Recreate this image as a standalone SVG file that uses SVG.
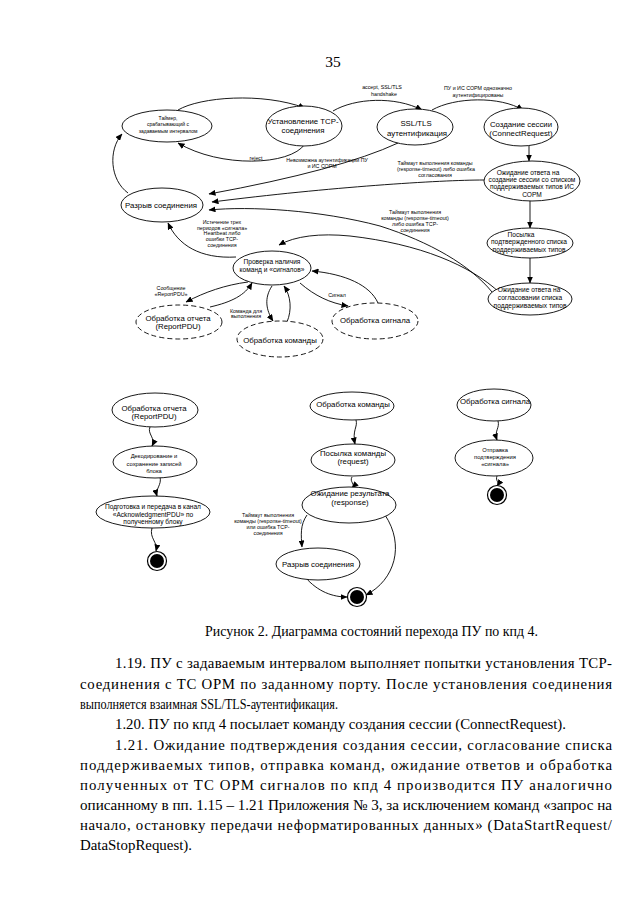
<svg xmlns="http://www.w3.org/2000/svg" width="640" height="905" viewBox="0 0 640 905">
<style>
.bg{fill:#fff}
.n{fill:#fff;stroke:#000;stroke-width:0.9}
.d{fill:#fff;stroke:#000;stroke-width:0.9;stroke-dasharray:5 3}
.t{font-family:"Liberation Sans",Arial,sans-serif;fill:#000;text-anchor:middle}
.t8{font-size:7.8px}
.t7{font-size:6.6px}
.t6{font-size:5.8px}
.l{font-family:"Liberation Sans",Arial,sans-serif;fill:#000;text-anchor:middle;font-size:5.3px}
.c path{fill:none;stroke:#000;stroke-width:0.9;marker-end:url(#ah)}
.body{font-family:"Liberation Serif","Times New Roman",serif;font-size:14.8px;fill:#000}
.end1{fill:#fff;stroke:#000;stroke-width:1.2}
.end2{fill:#000}
</style>
<defs>
<marker id="ah" markerUnits="userSpaceOnUse" markerWidth="7" markerHeight="6" refX="6.5" refY="3" orient="auto">
<path d="M0,0 L7,3 L0,6 z" fill="#000"/>
</marker>
</defs>
<rect class="bg" x="0" y="0" width="640" height="905"/>
<text class="body" x="333" y="67" text-anchor="middle" style="font-size:15.5px">35</text>

<g id="connectors" class="c">
<path d="M178,110 C200,97 262,92 305,108"/>
<path d="M305,144 C290,166 220,168 178,143"/>
<path d="M333,111 C355,98 395,96 422,110"/>
<path d="M432,110 C455,97 500,96 523,110"/>
<path d="M529,146 L529,161"/>
<path d="M530,200 L530,228"/>
<path d="M530,258 L530,283"/>
<path d="M398,143 Q340,170 209,194"/>
<path d="M484,180 C440,180 330,187 212,202"/>
<path d="M492,292 C470,265 430,242 380,226 C320,210 250,206 209,210"/>
<path d="M500,293 C470,265 420,244 350,236 C320,233 295,236 279,245"/>
<path d="M128,193 C110,180 108,150 122,134"/>
<path d="M236,257 C200,259 178,245 168,223"/>
<path d="M248,282 C225,285 205,292 186,302"/>
<path d="M210,307 C232,302 245,295 252,283"/>
<path d="M272,286 C264,298 266,310 273,321"/>
<path d="M287,322 C292,310 291,296 284,286"/>
<path d="M300,283 C315,296 330,303 348,306"/>
<path d="M378,303 C370,285 345,274 312,271"/>
<path d="M150,427 C147,434 156,438 152,446"/>
<path d="M160,477 C162,485 155,489 157,496"/>
<path d="M152,528 C149,538 158,542 156,551"/>
<path d="M356,420 C358,427 352,430 355,444"/>
<path d="M352,477 C349,482 356,484 352,488"/>
<path d="M307,515 C300,525 301,535 302,547"/>
<path d="M305,577 C318,592 333,597 347,597"/>
<path d="M385,515 C405,545 395,580 366,595"/>
<path d="M498,421 C500,428 494,431 497,440"/>
<path d="M497,476 C495,481 500,482 497,486"/>
</g>

<g id="labels">
<text class="l" x="382" y="89">accept, SSL/TLS</text>
<text class="l" x="384" y="96">handshake</text>
<text class="l" x="478" y="90">ПУ и ИС СОРМ однозначно</text>
<text class="l" x="478" y="97">аутентифицированы</text>
<text class="l" x="256" y="160">reject</text>
<text class="l" x="327" y="162">Невозможна аутентификации ПУ</text>
<text class="l" x="322" y="168">и ИС СОРМ</text>
<text class="l" x="435" y="165">Таймаут выполнения команды</text>
<text class="l" x="436" y="171">(response-timeout)  либо ошибка</text>
<text class="l" x="435" y="177">согласования</text>
<text class="l" x="415" y="213.5">Таймаут выполнения</text>
<text class="l" x="415" y="219.5">команды (response-timeout)</text>
<text class="l" x="415" y="225.5">либо ошибка TCP-</text>
<text class="l" x="415" y="231.5">соединения</text>
<text class="l" x="222" y="224">Истечение трех</text>
<text class="l" x="222" y="229.5">периодов «сигнала»</text>
<text class="l" x="222" y="235">Heartbeat либо</text>
<text class="l" x="222" y="241">ошибки TCP-</text>
<text class="l" x="222" y="246.5">соединения</text>
<text class="l" x="171" y="290">Сообщение</text>
<text class="l" x="171" y="295.5">«ReportPDU»</text>
<text class="l" x="246" y="313">Команда для</text>
<text class="l" x="246" y="318">выполнения</text>
<text class="l" x="337" y="297">Сигнал</text>
<text class="l" x="268" y="517">Таймаут выполнения</text>
<text class="l" x="268" y="523">команды (response-timeout)</text>
<text class="l" x="268" y="529">или ошибка TCP-</text>
<text class="l" x="268" y="535">соединения</text>
</g>

<g id="n-timer"><ellipse class="n" cx="167" cy="126" rx="45" ry="16"/>
<text class="t" style="font-size:5px" x="168" y="120">Таймер,</text>
<text class="t" style="font-size:5px" x="168" y="126">срабатывающий с</text>
<text class="t" style="font-size:5px" x="168" y="133">задаваемым интервалом</text></g>

<g id="n-tcp"><ellipse class="n" cx="304" cy="126" rx="38" ry="20"/>
<text class="t t8" x="303" y="124">Установление TCP-</text>
<text class="t t8" x="303" y="133">соединения</text></g>

<g id="n-ssl"><ellipse class="n" cx="415" cy="127" rx="38" ry="18"/>
<text class="t t8" x="416" y="126">SSL/TLS</text>
<text class="t t8" x="417" y="136">аутентификация</text></g>

<g id="n-session"><ellipse class="n" cx="521" cy="127" rx="37" ry="19"/>
<text class="t t8" x="521" y="127">Создание сессии</text>
<text class="t t8" x="521" y="136">(ConnectRequest)</text></g>

<g id="n-wait-session"><ellipse class="n" cx="532" cy="181" rx="48" ry="20"/>
<text class="t t7" x="528" y="175">Ожидание ответа на</text>
<text class="t t7" x="532" y="182">создание сессии со списком</text>
<text class="t t7" x="532" y="189">поддерживаемых типов ИС</text>
<text class="t t7" x="532" y="196.5">СОРМ</text></g>

<g id="n-break"><ellipse class="n" cx="162" cy="205" rx="41" ry="17"/>
<text class="t t8" x="161" y="208">Разрыв соединения</text></g>

<g id="n-send-list"><ellipse class="n" cx="530" cy="243" rx="43" ry="15"/>
<text class="t t7" x="521" y="237">Посылка</text>
<text class="t t7" x="529" y="244">подтвержденного списка</text>
<text class="t t7" x="529" y="252">поддерживаемых типов</text></g>

<g id="n-wait-list"><ellipse class="n" cx="530" cy="299" rx="42" ry="16"/>
<text class="t t7" x="529" y="292">Ожидание ответа на</text>
<text class="t t7" x="530" y="300">согласовании списка</text>
<text class="t t7" x="530" y="308">поддерживаемых типов</text></g>

<g id="n-check"><ellipse class="n" cx="272" cy="268" rx="39" ry="17"/>
<text class="t t7" x="272" y="264">Проверка наличия</text>
<text class="t t7" x="272" y="272">команд и «сигналов»</text></g>

<g id="n-report-d"><ellipse class="d" cx="179" cy="322" rx="43" ry="17"/>
<text class="t t8" x="178" y="320.5">Обработка отчета</text>
<text class="t t8" x="178" y="329">(ReportPDU)</text></g>

<g id="n-command-d"><ellipse class="d" cx="280" cy="339" rx="43" ry="18"/>
<text class="t t8" x="280" y="342.5">Обработка команды</text></g>

<g id="n-signal-d"><ellipse class="d" cx="375" cy="321" rx="43" ry="18"/>
<text class="t t8" x="375" y="322.5">Обработка сигнала</text></g>

<g id="n-report"><ellipse class="n" cx="155" cy="410" rx="43" ry="17"/>
<text class="t t8" x="154" y="410.5">Обработка отчета</text>
<text class="t t8" x="154" y="419">(ReportPDU)</text></g>

<g id="n-decode"><ellipse class="n" cx="155" cy="462" rx="42" ry="16"/>
<text class="t t6" x="154" y="458">Декодирование и</text>
<text class="t t6" x="154" y="465.5">сохранение записей</text>
<text class="t t6" x="154" y="473">блока</text></g>

<g id="n-ack"><ellipse class="n" cx="153" cy="512" rx="57" ry="16"/>
<text class="t t7" x="153" y="509">Подготовка и передача в канал</text>
<text class="t t7" x="153" y="516.5">«AcknowledgmentPDU» по</text>
<text class="t t7" x="153" y="524">полученному блоку</text></g>

<g id="end-1"><circle class="end1" cx="157" cy="561" r="9.5"/><circle class="end2" cx="157" cy="561" r="7"/></g>

<g id="n-command"><ellipse class="n" cx="352" cy="406" rx="42" ry="14"/>
<text class="t t8" x="353" y="407">Обработка команды</text></g>

<g id="n-request"><ellipse class="n" cx="353" cy="460" rx="42" ry="16"/>
<text class="t t8" x="353" y="456">Посылка команды</text>
<text class="t t8" x="353" y="464">(request)</text></g>

<g id="n-response"><ellipse class="n" cx="349" cy="505" rx="47" ry="18"/>
<text class="t t8" x="350" y="496">Ожидание результата</text>
<text class="t t8" x="350" y="505">(response)</text></g>

<g id="n-break2"><ellipse class="n" cx="318" cy="564" rx="42" ry="16"/>
<text class="t t8" x="318" y="566.5">Разрыв соединения</text></g>

<g id="end-2"><circle class="end1" cx="357" cy="597" r="9.5"/><circle class="end2" cx="357" cy="597" r="7"/></g>

<g id="n-signal"><ellipse class="n" cx="494" cy="405" rx="37" ry="16"/>
<text class="t t8" x="495" y="404">Обработка сигнала</text></g>

<g id="n-sig-ack"><ellipse class="n" cx="494" cy="458" rx="39" ry="18"/>
<text class="t t6" x="495" y="451.5">Отправка</text>
<text class="t t6" x="495" y="459">подтверждения</text>
<text class="t t6" x="495" y="466">«сигнала»</text></g>

<g id="end-3"><circle class="end1" cx="497" cy="495" r="9.5"/><circle class="end2" cx="497" cy="495" r="7"/></g>

<g id="text-body">
<text class="body" x="205" y="636" textLength="333" lengthAdjust="spacingAndGlyphs" style="font-size:15.5px">Рисунок 2. Диаграмма состояний перехода ПУ по кпд 4.</text>
<text class="body" x="115" y="668" textLength="497" lengthAdjust="spacing">1.19. ПУ с задаваемым интервалом выполняет попытки установления TCP-</text>
<text class="body" x="80" y="689" textLength="532" lengthAdjust="spacing">соединения с ТС ОРМ по заданному порту. После установления соединения</text>
<text class="body" x="80" y="709" textLength="258" lengthAdjust="spacingAndGlyphs">выполняется взаимная SSL/TLS-аутентификация.</text>
<text class="body" x="115" y="729" textLength="451" lengthAdjust="spacingAndGlyphs">1.20. ПУ по кпд 4 посылает команду создания сессии (ConnectRequest).</text>
<text class="body" x="115" y="750" textLength="497" lengthAdjust="spacing">1.21. Ожидание подтверждения создания сессии, согласование списка</text>
<text class="body" x="80" y="770" textLength="532" lengthAdjust="spacing">поддерживаемых типов, отправка команд, ожидание ответов и обработка</text>
<text class="body" x="80" y="790" textLength="532" lengthAdjust="spacing">полученных от ТС ОРМ сигналов по кпд 4 производится ПУ аналогично</text>
<text class="body" x="80" y="810" textLength="532" lengthAdjust="spacingAndGlyphs">описанному в пп. 1.15 – 1.21 Приложения № 3, за исключением команд «запрос на</text>
<text class="body" x="80" y="830" textLength="532" lengthAdjust="spacing">начало, остановку передачи неформатированных данных» (DataStartRequest/</text>
<text class="body" x="80" y="850" textLength="112" lengthAdjust="spacingAndGlyphs">DataStopRequest).</text>
</g>
</svg>
